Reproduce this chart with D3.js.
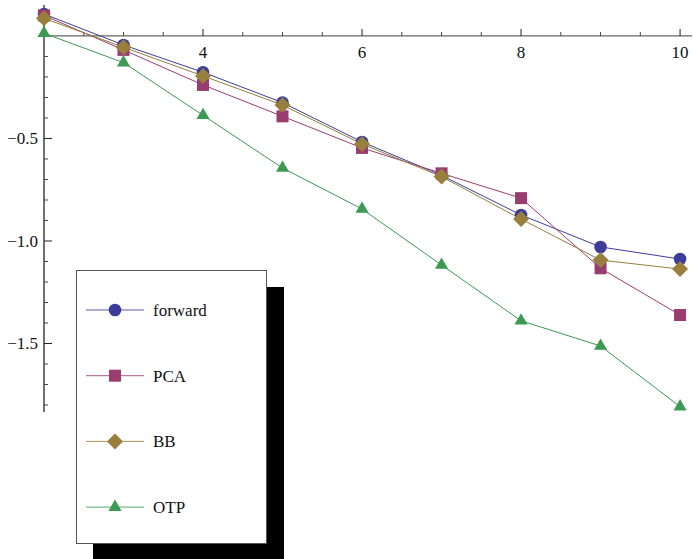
<!DOCTYPE html>
<html>
<head>
<meta charset="utf-8">
<script src="https://cdn.jsdelivr.net/npm/d3@7"></script>
<style>
  body { margin: 0; background: #fff; }
</style>
</head>
<body>
<svg id="chart" width="693" height="559"></svg>
<script>
'use strict'

// data
const xs = [2, 3, 4, 5, 6, 7, 8, 9, 10]
const forward = [0.107, -0.044, -0.177, -0.325, -0.517, -0.680, -0.873, -1.029, -1.088]
const pca     = [0.100, -0.068, -0.239, -0.392, -0.546, -0.670, -0.791, -1.133, -1.361]
const bb      = [0.086, -0.055, -0.195, -0.337, -0.527, -0.686, -0.893, -1.093, -1.137]
const otp     = [0.013, -0.130, -0.387, -0.644, -0.844, -1.117, -1.389, -1.512, -1.808]
const seriesNames = ['forward', 'PCA', 'BB', 'OTP']
const xMajorTicks = [4, 6, 8, 10]
const yMajorTicks = [-0.5, -1.0, -1.5]

const colors = ['#3d3d99', '#993d70', '#997f3d', '#3d9954']
const shapes = ['circle', 'square', 'diamond', 'triangle']
const serif = 'Liberation Serif'

const svg = d3.select('#chart')

const x = d3.scaleLinear().domain([2, 10.15]).range([44, 692])
const y = d3.scaleLinear().domain([0.151, -1.834]).range([5, 412])

// minor ticks
const xMinor = d3.range(2.5, 10.01, 0.5).filter(v => !xMajorTicks.includes(v))
const yMinor = d3.range(-1, -19, -1).map(v => v / 10).filter(v => !yMajorTicks.some(t => Math.abs(t - v) < 1e-9))

// x axis (at y = 0)
const gx = svg.append('g').attr('transform', `translate(0,${y(0)})`)
gx.append('line').attr('x1', x.range()[0]).attr('x2', x.range()[1])
  .attr('stroke', '#666').attr('stroke-width', 1.2)
gx.selectAll('.xminor').data(xMinor).enter().append('line')
  .attr('x1', d => x(d)).attr('x2', d => x(d)).attr('y1', 0).attr('y2', -4)
  .attr('stroke', '#444').attr('stroke-width', 1)
gx.selectAll('.xmajor').data(xMajorTicks).enter().append('line')
  .attr('x1', d => x(d)).attr('x2', d => x(d)).attr('y1', 0).attr('y2', -7)
  .attr('stroke', '#222').attr('stroke-width', 1)
gx.selectAll('.xlabel').data(xMajorTicks).enter().append('text')
  .attr('x', d => x(d)).attr('y', 22)
  .attr('text-anchor', 'middle').attr('font-size', 17).style('font-family', serif).attr('fill', '#111')
  .text(d => d)

// y axis (at x = 2)
const fmt = d3.format('.1f')
const gy = svg.append('g').attr('transform', `translate(${x(2)},0)`)
gy.append('line').attr('y1', y.range()[0]).attr('y2', y.range()[1])
  .attr('stroke', '#111').attr('stroke-width', 1.2)
gy.selectAll('.yminor').data(yMinor).enter().append('line')
  .attr('y1', d => y(d)).attr('y2', d => y(d)).attr('x1', 0).attr('x2', 4)
  .attr('stroke', '#444').attr('stroke-width', 1)
gy.selectAll('.ymajor').data(yMajorTicks).enter().append('line')
  .attr('y1', d => y(d)).attr('y2', d => y(d)).attr('x1', 0).attr('x2', 8)
  .attr('stroke', '#222').attr('stroke-width', 1)
gy.selectAll('.ylabel').data(yMajorTicks).enter().append('text')
  .attr('x', -6).attr('y', d => y(d)).attr('dy', '0.35em')
  .attr('text-anchor', 'end').attr('font-size', 17).style('font-family', serif).attr('fill', '#111')
  .text(d => fmt(d))

// marker helper
function marker(sel, shape, color){
  if(shape == 'circle'){
    sel.append('circle').attr('r', 6.3).attr('fill', color)
  } else if(shape == 'square'){
    sel.append('rect').attr('x', -6).attr('y', -6).attr('width', 12).attr('height', 12).attr('fill', color)
  } else if(shape == 'diamond'){
    sel.append('path').attr('d', 'M0,-8L8,0L0,8L-8,0Z').attr('fill', color)
  } else {
    sel.append('path').attr('d', d3.symbol(d3.symbolTriangle, 75)()).attr('fill', color)
  }
}

const allSeries = [forward, pca, bb, otp]
const line = d3.line().x((d, i) => x(xs[i])).y(d => y(d))

const plot = svg.append('g')
allSeries.forEach((s, k) => {
  plot.append('path').datum(s).attr('d', line)
    .attr('fill', 'none').attr('stroke', colors[k]).attr('stroke-width', 1)
})
allSeries.forEach((s, k) => {
  s.forEach((v, i) => {
    const g = plot.append('g').attr('transform', `translate(${x(xs[i])},${y(v)})`)
    marker(g, shapes[k], colors[k])
  })
})

// legend with drop shadow
const lg = svg.append('g')
lg.append('rect').attr('x', 93).attr('y', 287).attr('width', 191).attr('height', 272).attr('fill', '#000')
lg.append('rect').attr('x', 76.5).attr('y', 270.5).attr('width', 190).attr('height', 273)
  .attr('fill', '#fff').attr('stroke', '#555').attr('stroke-width', 1)
seriesNames.forEach((name, k) => {
  const ly = 310 + k * 65.7
  lg.append('line').attr('x1', 86).attr('x2', 144).attr('y1', ly).attr('y2', ly)
    .attr('stroke', colors[k]).attr('stroke-width', 1).attr('opacity', 0.85)
  marker(lg.append('g').attr('transform', `translate(115,${ly})`), shapes[k], colors[k])
  lg.append('text').attr('x', 153).attr('y', ly).attr('dy', '0.35em')
    .attr('font-size', 17).style('font-family', serif).attr('fill', '#111').text(name)
})
</script>
</body>
</html>
